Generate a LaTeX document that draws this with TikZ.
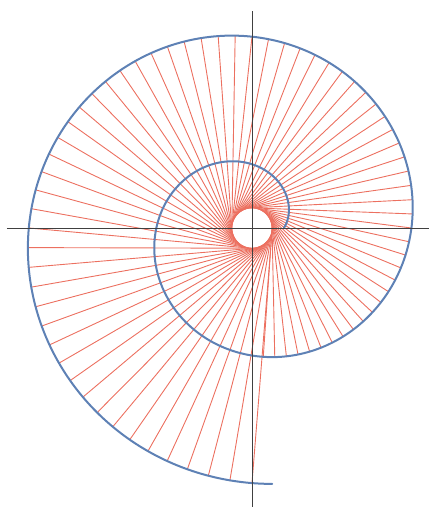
\documentclass[tikz,border=0pt]{standalone}
\usepackage{tikz}
\definecolor{spiralblue}{RGB}{94, 129, 181}
\definecolor{normalred}{RGB}{236, 112, 96}

\begin{document}
\begin{tikzpicture}[
    x=1pt, y=1pt,
    spiral/.style={spiralblue, line width=2pt, line cap=round},
    normal/.style={normalred, line width=0.9pt},
    axis/.style={black!75, line width=0.9pt},
]

%% Rahmen (429 x 507, Ursprung im Achsenkreuz)
\useasboundingbox (-252,-279) rectangle (177,228);

\def\a{20.3}

%% Normalen der äußeren Windung
\foreach \i in {1,...,72} {
  \pgfmathsetmacro\t{2*pi+\i*pi/36}
  \draw[normal] ({\a*\t*sin(\t r)},{-\a*\t*cos(\t r)}) -- ({\a*cos(\t r)},{\a*sin(\t r)});
}

%% Spirale
\draw[spiral] plot[domain=pi/2:12.651, samples=400, smooth, variable=\t]
  ({\a*\t*sin(\t r)},{-\a*\t*cos(\t r)});

%% Achsen
\coordinate (xl) at (-245,0);
\coordinate (xr) at (177,0);
\coordinate (yb) at (0,-279);
\coordinate (yt) at (0,217);
\draw[axis] (xl) -- (xr);
\draw[axis] (yb) -- (yt);

\end{tikzpicture}
\end{document}
